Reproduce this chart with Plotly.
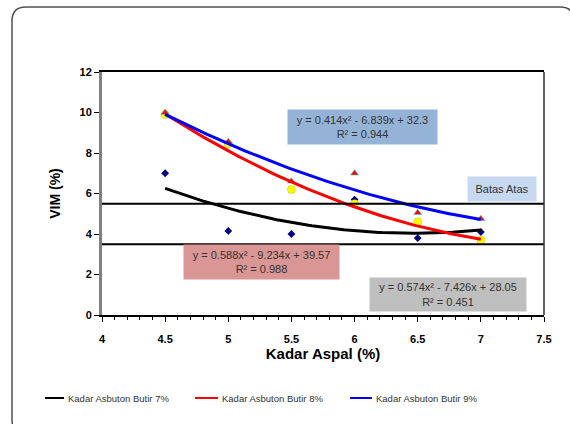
import numpy as np
import plotly.graph_objects as go

# ---- data ----
kadar_aspal = [4.5, 5.0, 5.5, 6.0, 6.5, 7.0]
vim_7 = [7.0, 4.15, 4.0, 5.7, 3.8, 4.1]
vim_8 = [9.9, 8.45, 6.2, 5.5, 4.6, 3.7]
vim_9 = [10.0, 8.55, 6.6, 7.0, 5.05, 4.75]

# displayed polynomial trendline coefficients (a, b, c) for y = a x^2 + b x + c
coef_7 = [0.574, -7.426, 28.05]
coef_8 = [0.588, -9.234, 39.57]
coef_9 = [0.414, -6.839, 32.3]
r2_7, r2_8, r2_9 = 0.451, 0.988, 0.944

batas_atas = 5.5
batas_bawah = 3.5

series_names = ["Kadar Asbuton Butir 7%", "Kadar Asbuton Butir 8%", "Kadar Asbuton Butir 9%"]
line_colors = ["#000000", "#FF0000", "#0000FF"]
x_ticks = [4, 4.5, 5, 5.5, 6, 6.5, 7, 7.5]
y_ticks = [0, 2, 4, 6, 8, 10, 12]

# ---- layout geometry (pixels) ----
W, H = 570, 424
L, R, T, B = 102, 544, 72, 315
pw, ph = R - L, B - T

def fx(px):
    return (px - L) / pw

def fy(py):
    return 1 - (py - T) / ph

fig = go.Figure()

xx = np.linspace(min(kadar_aspal), max(kadar_aspal), 100)

# markers
fig.add_trace(go.Scatter(x=kadar_aspal, y=vim_7, mode="markers", showlegend=False,
                         marker=dict(symbol="diamond", size=6, color="#000080")))
fig.add_trace(go.Scatter(x=kadar_aspal, y=vim_8, mode="markers", showlegend=False,
                         marker=dict(symbol="circle", size=8, color="#FFFF00",
                                     line=dict(color="#C8B400", width=0.5))))
fig.add_trace(go.Scatter(x=kadar_aspal, y=vim_9, mode="markers", showlegend=False,
                         marker=dict(symbol="triangle-up", size=7, color="#FF0000",
                                     line=dict(color="#33CCCC", width=0.6))))

# trendlines
for coef, col, name in zip([coef_7, coef_8, coef_9], line_colors, series_names):
    yy = np.polyval(coef, xx)
    fig.add_trace(go.Scatter(x=xx, y=yy, mode="lines", name=name, showlegend=False,
                             line=dict(color=col, width=3)))

shapes = []
# limit lines
for v in [batas_atas, batas_bawah]:
    shapes.append(dict(type="line", xref="paper", yref="y", x0=0, x1=1, y0=v, y1=v,
                       line=dict(color="#000000", width=2)))
# right border of plot
shapes.append(dict(type="line", xref="paper", yref="paper", x0=1, x1=1, y0=0, y1=1,
                   line=dict(color="#303030", width=1.5)))
# outer rounded frame
x0, x1 = fx(12), fx(574)
y0, y1 = fy(434), fy(7)
rx, ry = 14 / pw, 14 / ph
path = (f"M {x0},{y0 + ry} L {x0},{y1 - ry} Q {x0},{y1} {x0 + rx},{y1} "
        f"L {x1 - rx},{y1} Q {x1},{y1} {x1},{y1 - ry} L {x1},{y0 + ry} "
        f"Q {x1},{y0} {x1 - rx},{y0} L {x0 + rx},{y0} Q {x0},{y0} {x0},{y0 + ry} Z")
shapes.append(dict(type="path", xref="paper", yref="paper", path=path,
                   line=dict(color="#505050", width=1.5), layer="below"))

def eq_text(c, r2):
    return (f"y = {c[0]}x² - {abs(c[1])}x + {c[2]}<br>R² = {r2}")

ann_font = dict(family="Liberation Sans, Arial, sans-serif", size=11, color="#333333")
annotations = [
    dict(xref="paper", yref="paper", x=fx(362), y=fy(127), text=eq_text(coef_9, r2_9),
         showarrow=False, bgcolor="#95B3D7", width=145, height=30, font=ann_font,
         xanchor="center", yanchor="middle", borderpad=2),
    dict(xref="paper", yref="paper", x=fx(502), y=fy(189), text="Batas Atas",
         showarrow=False, bgcolor="#C6D9F1", width=64, height=20, font=ann_font,
         xanchor="center", yanchor="middle", borderpad=2),
    dict(xref="paper", yref="paper", x=fx(261), y=fy(261.5), text=eq_text(coef_8, r2_8),
         showarrow=False, bgcolor="#DA9694", width=151, height=30, font=ann_font,
         xanchor="center", yanchor="middle", borderpad=2),
    dict(xref="paper", yref="paper", x=fx(448), y=fy(294.5), text=eq_text(coef_7, r2_7),
         showarrow=False, bgcolor="#BFBFBF", width=152, height=29, font=ann_font,
         xanchor="center", yanchor="middle", borderpad=2),
]

# manual legend (line sample + label)
leg_y = fy(398)
leg_lines = [(45, 64), (195, 218), (350, 372)]
for (a, b), col, name in zip(leg_lines, line_colors, series_names):
    shapes.append(dict(type="line", xref="paper", yref="paper", x0=fx(a), x1=fx(b),
                       y0=leg_y, y1=leg_y, line=dict(color=col, width=2)))
    annotations.append(dict(xref="paper", yref="paper", x=fx(b + 2), y=leg_y, text=name,
                            showarrow=False, xanchor="left", yanchor="middle",
                            font=dict(family="Liberation Sans, Arial, sans-serif", size=9.5,
                                      color="#333333")))

tick_font = dict(family="Liberation Sans, Arial, sans-serif", size=11, color="#000000")
title_font = dict(family="Liberation Sans, Arial, sans-serif", size=15, color="#000000")

fig.update_layout(
    width=W, height=H,
    margin=dict(l=L, r=W - R, t=T, b=H - B),
    paper_bgcolor="white", plot_bgcolor="white",
    shapes=shapes, annotations=annotations, showlegend=False,
    font=dict(family="Liberation Sans, Arial, sans-serif"),
    xaxis=dict(range=[4, 7.5], tickvals=x_ticks, ticktext=[f"{t:g}" for t in x_ticks],
               showgrid=False, zeroline=False, showline=True, linecolor="#000000",
               linewidth=2, mirror=True, ticks="outside", ticklen=5, tickcolor="#000000",
               ticklabelstandoff=8,
               minor=dict(dtick=0.1, ticks="outside", ticklen=3, tickcolor="#000000", showgrid=False),
               tickfont=dict(**tick_font, weight="bold"),
               title=dict(text="<b>Kadar Aspal (%)</b>", font=title_font, standoff=3)),
    yaxis=dict(range=[0, 12], tickvals=y_ticks, showgrid=False, zeroline=False,
               showline=True, linecolor="#808080", linewidth=3, mirror=False,
               ticks="outside", ticklen=5, tickcolor="#000000",
               tickfont=dict(**tick_font, weight="bold"),
               title=dict(text="<b>VIM (%)</b>", font=dict(**{**title_font, "size": 14}), standoff=16)),
)

fig.write_html("out.html")
